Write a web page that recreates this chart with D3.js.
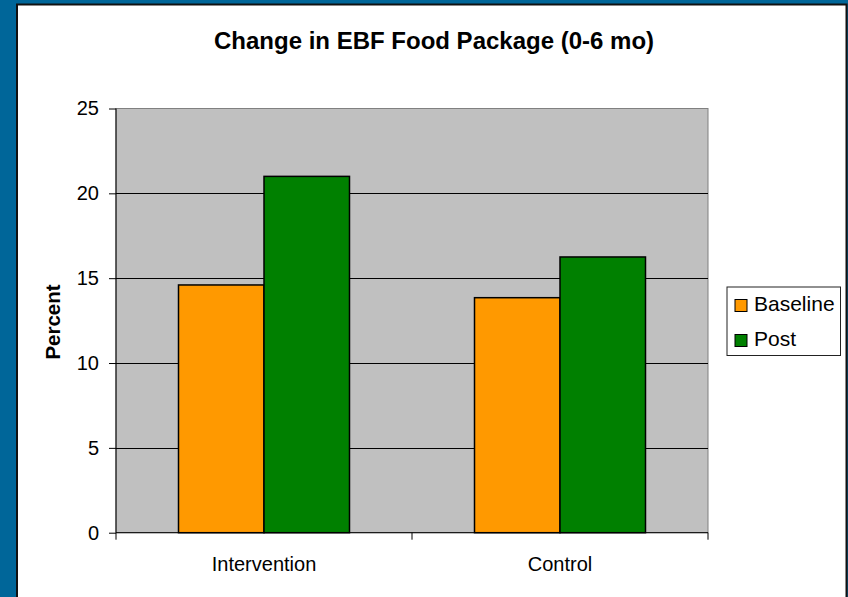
<!DOCTYPE html>
<html>
<head>
<meta charset="utf-8">
<script src="https://cdn.jsdelivr.net/npm/d3@7"></script>
<style>
  html, body { margin: 0; padding: 0; background: #006699; }
  svg { display: block; }
  text { font-family: "Liberation Sans", Arial, sans-serif; fill: #000; }
</style>
</head>
<body>
<svg id="chart" width="848" height="597"></svg>
<script>
const categories = ["Intervention", "Control"];
const seriesNames = ["Baseline", "Post"];
const baselineValues = [14.6, 13.85];
const postValues = [21.0, 16.25];
const yTicks = [0, 5, 10, 15, 20, 25];
const title = "Change in EBF Food Package (0-6 mo)";
const yLabel = "Percent";
const colors = ["#FF9900", "#008000"];

const svg = d3.select("#chart");
const W = 848, H = 597;

// Background and white panel
svg.append("rect").attr("x", 0).attr("y", 0).attr("width", W).attr("height", H).attr("fill", "#006699");
svg.append("rect").attr("x", 17).attr("y", 4.5).attr("width", 829.5).attr("height", 600)
  .attr("fill", "#fff").attr("stroke", "#111").attr("stroke-width", 2);

const plot = { left: 116, right: 708, top: 108.5, bottom: 532.7 };

const x0 = d3.scaleBand().domain(categories).range([plot.left, plot.right]).padding(0);
const x1 = d3.scaleBand().domain(seriesNames).range([0, x0.bandwidth()]).paddingInner(0).paddingOuter(0.731);
const y = d3.scaleLinear().domain([0, 25]).range([plot.bottom, plot.top]);

// Plot area
svg.append("rect").attr("x", plot.left).attr("y", plot.top)
  .attr("width", plot.right - plot.left).attr("height", plot.bottom - plot.top)
  .attr("fill", "#C0C0C0").attr("stroke", "#808080").attr("stroke-width", 1);

// Gridlines
svg.append("g").selectAll("line").data(yTicks.filter(d => d > 0 && d < 25)).join("line")
  .attr("x1", plot.left).attr("x2", plot.right)
  .attr("y1", d => Math.round(y(d)) + 0.5).attr("y2", d => Math.round(y(d)) + 0.5)
  .attr("stroke", "#000").attr("stroke-width", 1);

// Bars
const data = categories.map((c, i) => ({ cat: c, vals: [baselineValues[i], postValues[i]] }));
const groups = svg.append("g").selectAll("g").data(data).join("g")
  .attr("transform", d => `translate(${x0(d.cat)},0)`);
groups.selectAll("rect").data(d => d.vals.map((v, j) => ({ s: seriesNames[j], v, j }))).join("rect")
  .attr("x", d => x1(d.s)).attr("width", x1.bandwidth())
  .attr("y", d => y(d.v)).attr("height", d => y(0) - y(d.v))
  .attr("fill", d => colors[d.j]).attr("stroke", "#000").attr("stroke-width", 1.5);

// Y axis
const yAxis = d3.axisLeft(y).tickValues(yTicks).tickSize(7).tickPadding(10).tickFormat(d3.format("d"));
const gy = svg.append("g").attr("transform", `translate(${plot.left},0)`).call(yAxis);
gy.select(".domain").attr("stroke", "#000").attr("d", `M0,${plot.top}V${plot.bottom}`);
gy.selectAll(".tick line").attr("stroke", "#000");
gy.selectAll(".tick text").attr("font-size", 20).attr("font-family", "Liberation Sans, Arial, sans-serif").attr("fill", "#000");

// X axis
const xAxis = d3.axisBottom(x0).tickSize(0).tickPadding(24);
const gx = svg.append("g").attr("transform", `translate(0,${plot.bottom})`).call(xAxis);
gx.select(".domain").attr("stroke", "#000").attr("d", `M${plot.left},0H${plot.right}`);
gx.selectAll(".tick text").attr("font-size", 20).attr("font-family", "Liberation Sans, Arial, sans-serif").attr("fill", "#000");
// boundary tick marks
const bounds = [plot.left, ...categories.slice(1).map(c => x0(c)), plot.right];
gx.append("g").selectAll("line").data(bounds).join("line")
  .attr("x1", d => d).attr("x2", d => d).attr("y1", 0).attr("y2", 7)
  .attr("stroke", "#000");

// Title
svg.append("text").attr("x", 434).attr("y", 49).attr("text-anchor", "middle")
  .attr("font-size", 24).attr("font-weight", "bold").text(title);

// Y label
svg.append("text").attr("transform", "translate(59.5,322) rotate(-90)").attr("text-anchor", "middle")
  .attr("font-size", 20.5).attr("font-weight", "bold").text(yLabel);

// Legend
const lg = svg.append("g");
lg.append("rect").attr("x", 727).attr("y", 287).attr("width", 113.5).attr("height", 68.5)
  .attr("fill", "#fff").attr("stroke", "#222").attr("stroke-width", 1);
const items = lg.selectAll("g").data(seriesNames).join("g")
  .attr("transform", (d, i) => `translate(735,${299.5 + i * 35})`);
items.append("rect").attr("width", 12).attr("height", 12)
  .attr("fill", (d, i) => colors[i]).attr("stroke", "#000").attr("stroke-width", 1);
items.append("text").attr("x", 19).attr("y", 11.5).attr("font-size", 21).text(d => d);
</script>
</body>
</html>
